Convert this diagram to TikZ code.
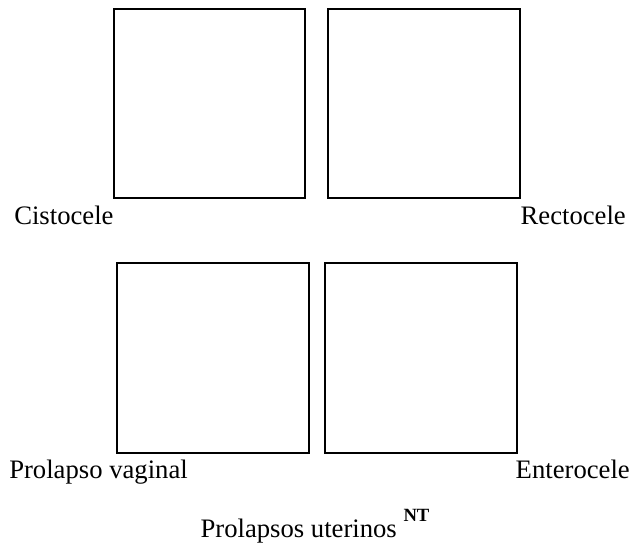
\documentclass[tikz,border=0pt]{standalone}
\usepackage{fontspec}
\setmainfont{Liberation Serif}
\usepackage{tikz}
\definecolor{ink}{HTML}{000000}
\tikzset{
  panel/.style={draw=ink, line width=1.5pt, minimum width=143.5pt, minimum height=142pt, inner sep=0pt},
  caption/.style={text=ink, inner sep=0pt, font=\fontsize{20}{24}\selectfont}
}

\begin{document}
\begin{tikzpicture}[x=0.75pt, y=-0.75pt]
\useasboundingbox (0,0) rectangle (630,544);
\node[panel] (cisto) at (209.5,103.5) {};
\node[panel] (recto) at (424,103.5) {};
\node[panel] (vagin) at (213,358) {};
\node[panel] (entero) at (421,358) {};
\node[caption, anchor=base west] (lcisto) at (14,224) {Cistocele};
\node[caption, anchor=base east] (lrecto) at (626,224) {Rectocele};
\node[caption, anchor=base west] (lvagin) at (9,478) {Prolapso vaginal};
\node[caption, anchor=base east] (lentero) at (630,478) {Enterocele};
\node[caption, anchor=base] (titulo) at (315,537) {Prolapsos uterinos \raisebox{12pt}{\fontsize{14}{16}\selectfont\bfseries NT}};
\end{tikzpicture}
\end{document}
